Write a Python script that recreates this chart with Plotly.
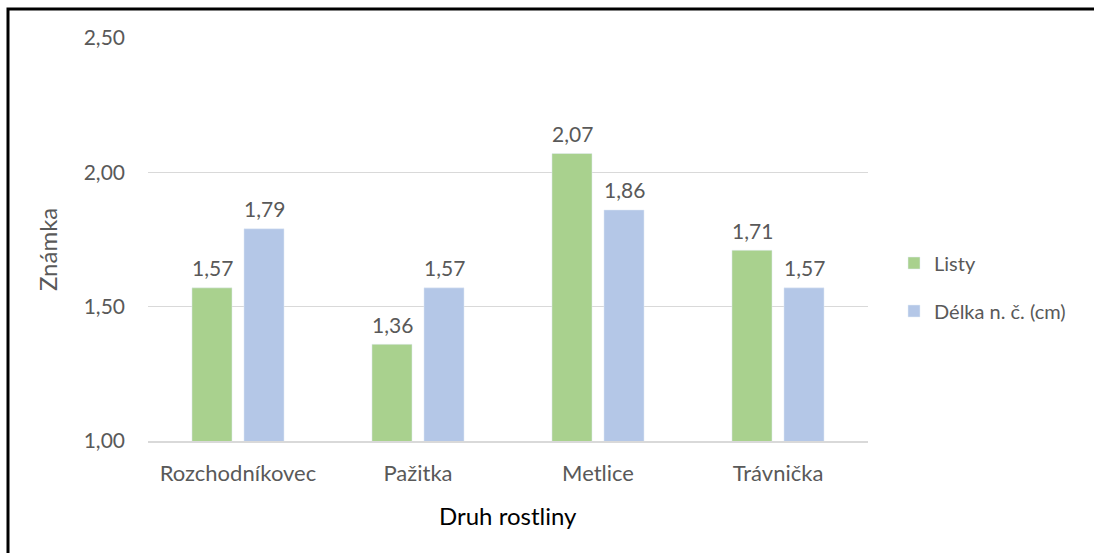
import plotly.graph_objects as go

categories = ["Rozchodníkovec", "Pažitka", "Metlice", "Trávnička"]
listy = [1.57, 1.36, 2.07, 1.71]
delka = [1.79, 1.57, 1.86, 1.57]
series_names = ["Listy", "Délka n. č. (cm)"]
y_ticks = [1.0, 1.5, 2.0, 2.5]

W, H = 1094, 553
L, R, T, B = 148, 868, 38, 441
FONT = "Lato, Carlito, Calibri, sans-serif"
GREY = "#595959"


def px(x):
    return (x - L) / (R - L)


def py(y):
    return (B - y) / (B - T)


fig = go.Figure()
fig.add_trace(go.Bar(
    x=categories, y=listy, name=series_names[0],
    marker_color="#A9D18E", legend="legend",
))
fig.add_trace(go.Bar(
    x=categories, y=delka, name=series_names[1],
    marker_color="#B4C7E7", legend="legend2",
))

# value labels above each bar, offset to the bar's slot in the group
labels = []
for values, shift in ((listy, -26), (delka, 26)):
    for cat, v in zip(categories, values):
        labels.append(dict(
            x=cat, y=v, xref="x", yref="y", text=f"{v:.2f}".replace(".", ","),
            showarrow=False, xshift=shift, yshift=20,
            font=dict(size=21, color=GREY, family=FONT),
        ))

legend_style = dict(
    font=dict(size=20, color=GREY, family=FONT),
    bgcolor="rgba(0,0,0,0)", xanchor="left", yanchor="middle",
    itemwidth=30,
)

fig.update_layout(
    width=W, height=H,
    margin=dict(l=L, r=W - R, t=T, b=H - B),
    paper_bgcolor="white", plot_bgcolor="white",
    separators=", ",
    barmode="group", bargap=0.422, bargroupgap=0.23,
    font=dict(family=FONT, color=GREY),
    showlegend=True,
    legend=dict(x=px(894), y=py(263), **legend_style),
    legend2=dict(x=px(894), y=py(311), **legend_style),
    xaxis=dict(
        showgrid=False, showline=True, linecolor="#D9D9D9", linewidth=1.5,
        tickfont=dict(size=22, color=GREY, family=FONT),
        ticks="", ticklabelstandoff=12,
    ),
    yaxis=dict(
        range=[1.0, 2.5], tickvals=y_ticks, tickformat=".2f",
        showgrid=True, gridcolor="#D9D9D9", gridwidth=1,
        zeroline=False, showline=False,
        tickfont=dict(size=21, color=GREY, family=FONT),
        ticks="", ticklabelstandoff=22,
    ),
    annotations=labels + [
        dict(text="Známka", x=px(47), y=py(250), xref="paper", yref="paper",
             xanchor="center", yanchor="middle",
             showarrow=False, textangle=-90,
             font=dict(size=24, color=GREY, family=FONT)),
        dict(text="Druh rostliny", x=px(508), y=py(515), xref="paper", yref="paper",
             xanchor="center", yanchor="middle",
             showarrow=False,
             font=dict(size=24, color="#000000", family=FONT)),
    ],
    shapes=[
        dict(type="rect", xref="paper", yref="paper",
             x0=px(8), x1=px(W + 20), y0=py(H + 20), y1=py(9),
             line=dict(color="black", width=3), fillcolor="rgba(0,0,0,0)",
             layer="above"),
    ],
)

fig.write_html("out.html")
